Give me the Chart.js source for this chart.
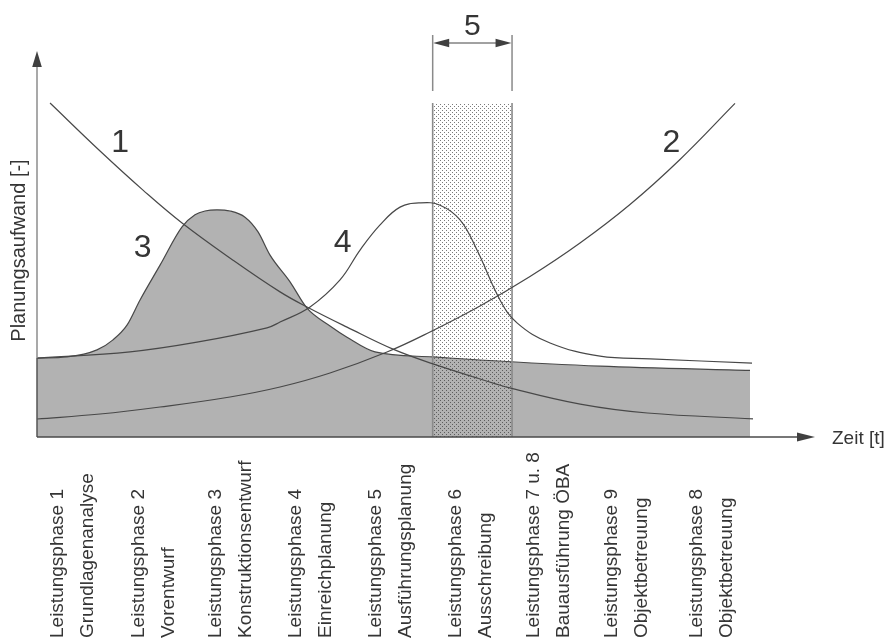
<!DOCTYPE html>
<html><head><meta charset="utf-8">
<script src="https://cdn.jsdelivr.net/npm/chart.js@4.4.1/dist/chart.umd.min.js"></script>
<style>html,body{margin:0;padding:0;background:#fff;} #wrap{width:887px;height:639px;position:relative;}</style>
</head><body><div id="wrap"><canvas id="c"></canvas></div>
<script>
// ---- data (time units on x, effort units on y) ----
const phaseLabels = [
  ["Leistungsphase 1", "Grundlagenanalyse"],
  ["Leistungsphase 2", "Vorentwurf"],
  ["Leistungsphase 3", "Konstruktionsentwurf"],
  ["Leistungsphase 4", "Einreichplanung"],
  ["Leistungsphase 5", "Ausführungsplanung"],
  ["Leistungsphase 6", "Ausschreibung"],
  ["Leistungsphase 7 u. 8", "Bauausführung ÖBA"],
  ["Leistungsphase 9", "Objektbetreuung"],
  ["Leistungsphase 8", "Objektbetreuung"]
];
const phaseTicks = [3.26, 13.38, 22.95, 33.06, 43.06, 52.95, 62.75, 72.54, 83.16];

const curve1 = [[1.63,86.3],[7.88,73.9],[13.25,63.8],[18.13,55.3],[24.5,45.7],[30.38,37.5],[33.75,33.6],[38.75,28.4],[44.5,22.7],[49.5,18.9],[55.4,15.0],[59.1,12.7],[67.9,8.5],[76.3,6.2],[89.5,4.7]];
const curve2 = [[0,4.65],[7.875,5.94],[15.375,7.75],[24.125,10.34],[30.375,12.92],[36.625,16.54],[43.75,21.96],[49.125,27.13],[55.375,33.85],[61.625,41.47],[67.875,50.13],[74.125,60.08],[80.375,71.71],[87.25,86.2]];
const curve3 = [[0,20.4],[3.75,20.7],[7.5,22.5],[9.5,25.1],[11.25,28.9],[12.88,35.4],[15.38,44.4],[18.13,54.3],[19.75,57.4],[21.0,58.4],[22.5,58.7],[24.13,58.4],[26.0,56.8],[27.63,53.0],[29.13,47.0],[31.63,40.1],[33.75,33.3],[36.63,28.7],[38.75,25.8],[42.25,22.0],[49.5,20.7],[55.38,19.9],[70.38,18.3],[89.13,17.2]];
const curve4 = [[0,20.4],[11.63,22.0],[20.0,24.5],[28.75,28.2],[30.38,29.7],[34.13,33.6],[37.88,40.6],[40.38,48.3],[42.88,54.8],[45.38,59.4],[47.88,60.5],[50.38,59.9],[52.88,56.1],[55.0,48.3],[57.88,35.4],[60.0,29.5],[64.13,24.3],[70.38,20.9],[76.63,20.2],[89.38,19.1]];
const phase5Span = [49.46, 59.38];
const phase5Top = 86.3;

const curveNames = ["1", "2", "3", "4"];
const curveLabelAt = [[10.4, 73.6], [79.3, 73.6], [13.2, 46.5], [38.2, 47.8]];

// ---- helpers ----
const FONT = '"Liberation Sans", Arial, Helvetica, sans-serif';
const toXY = a => a.map(([x, y]) => ({x, y}));
function dotPattern() {
  const c = document.createElement('canvas'); c.width = 4; c.height = 4;
  const g = c.getContext('2d');
  g.fillStyle = 'rgba(40,40,40,0.62)';
  g.fillRect(0, 0, 1, 1); g.fillRect(2, 2, 1, 1);
  return g.createPattern(c, 'repeat');
}
const rect5 = [[phase5Span[0],0],[phase5Span[0],phase5Top],[phase5Span[1],phase5Top],[phase5Span[1],0]];

const LINE = '#484848';
const TXT = '#353535';

function arrowHead(ctx, tx, ty, dx, dy, len, half) {
  const bx = tx - dx * len, by = ty - dy * len;
  ctx.beginPath();
  ctx.moveTo(tx, ty);
  ctx.lineTo(bx - dy * half, by + dx * half);
  ctx.lineTo(bx + dy * half, by - dx * half);
  ctx.closePath(); ctx.fill();
}
function rotText(ctx, txt, x, y) {
  ctx.save(); ctx.translate(x, y); ctx.rotate(-Math.PI / 2);
  ctx.textAlign = 'left'; ctx.textBaseline = 'alphabetic';
  ctx.fillText(txt, 0, 0); ctx.restore();
}

const decor = {
  id: 'decor',
  afterDraw(chart) {
    const ctx = chart.ctx, xs = chart.scales.x, ys = chart.scales.y;
    const x0 = xs.getPixelForValue(0), y0 = ys.getPixelForValue(0);
    const gy = ys.getPixelForValue(curve3[0][1]);
    ctx.save();
    // y axis
    ctx.lineWidth = 1.5;
    ctx.strokeStyle = '#8c8c8c';
    ctx.beginPath(); ctx.moveTo(x0, gy); ctx.lineTo(x0, chart.chartArea.top + 16); ctx.stroke();
    ctx.strokeStyle = '#555';
    ctx.beginPath(); ctx.moveTo(x0, y0); ctx.lineTo(x0, gy); ctx.stroke();
    ctx.fillStyle = '#404040';
    arrowHead(ctx, x0, chart.chartArea.top + 1, 0, -1, 16, 4.8);
    // x axis
    ctx.strokeStyle = '#4a4a4a'; ctx.lineWidth = 1.5;
    ctx.beginPath(); ctx.moveTo(x0, y0); ctx.lineTo(xs.getPixelForValue(97.25) - 16, y0); ctx.stroke();
    arrowHead(ctx, xs.getPixelForValue(97.25), y0, 1, 0, 18, 4.5);

    // dimension for phase 5
    const a = xs.getPixelForValue(phase5Span[0]), b = xs.getPixelForValue(phase5Span[1]);
    ctx.strokeStyle = '#8a8a8a'; ctx.lineWidth = 1.5;
    ctx.beginPath(); ctx.moveTo(a, 35); ctx.lineTo(a, 91); ctx.moveTo(b, 35); ctx.lineTo(b, 91); ctx.stroke();
    ctx.strokeStyle = '#444'; ctx.lineWidth = 1;
    ctx.beginPath(); ctx.moveTo(a + 10, 43); ctx.lineTo(b - 10, 43); ctx.stroke();
    ctx.fillStyle = '#404040';
    arrowHead(ctx, a + 0.5, 43, -1, 0, 16, 4.2);
    arrowHead(ctx, b - 0.5, 43, 1, 0, 16, 4.2);

    // text
    ctx.fillStyle = TXT;
    ctx.font = '30px ' + FONT; ctx.textAlign = 'center'; ctx.textBaseline = 'alphabetic';
    ctx.fillText('5', (a + b) / 2, 35);
    ctx.font = '32px ' + FONT;
    curveNames.forEach((n, i) => {
      ctx.fillText(n, xs.getPixelForValue(curveLabelAt[i][0]), ys.getPixelForValue(curveLabelAt[i][1]));
    });
    ctx.font = '19px ' + FONT; ctx.textAlign = 'left';
    ctx.fillText('Zeit [t]', 832, y0 + 7);
    ctx.font = '20px ' + FONT;
    ctx.save(); ctx.translate(25, 250.5); ctx.rotate(-Math.PI / 2);
    ctx.textAlign = 'center'; ctx.fillText('Planungsaufwand [-]', 0, 0); ctx.restore();
    ctx.font = '19px ' + FONT;
    phaseLabels.forEach((lines, i) => {
      const px = xs.getPixelForValue(phaseTicks[i]);
      rotText(ctx, lines[0], px, 638);
      rotText(ctx, lines[1], px + 30, 638);
    });
    ctx.restore();
  }
};

const lineDs = (data, order, smooth) => Object.assign({
  data: toXY(data), borderColor: LINE, borderWidth: 1.2, pointRadius: 0,
  fill: false, order
}, smooth ? { tension: 0.4 } : { cubicInterpolationMode: 'monotone' });

new Chart(document.getElementById('c'), {
  type: 'line',
  data: {
    datasets: [
      lineDs(curve1, 1, true),
      lineDs(curve2, 2, true),
      lineDs(curve4, 3, true),
      {
        data: toXY(rect5), borderColor: '#8a8a8a', borderWidth: 1.6, pointRadius: 0, tension: 0,
        fill: 'origin', backgroundColor: dotPattern(), order: 4,
        segment: { borderColor: c => c.p0DataIndex === 1 ? 'rgba(0,0,0,0)' : '#8a8a8a' }
      },
      Object.assign(lineDs(curve3, 5, false), { fill: 'origin', backgroundColor: '#b2b2b2' })
    ]
  },
  options: {
    responsive: true, maintainAspectRatio: false, animation: false,
    layout: { padding: { left: 37, right: 70, top: 50, bottom: 202 } },
    plugins: { legend: { display: false }, tooltip: { enabled: false } },
    scales: {
      x: { type: 'linear', min: 0, max: 97.5, display: false },
      y: { type: 'linear', min: 0, max: 100, display: false }
    }
  },
  plugins: [decor]
});
</script>
</body></html>
